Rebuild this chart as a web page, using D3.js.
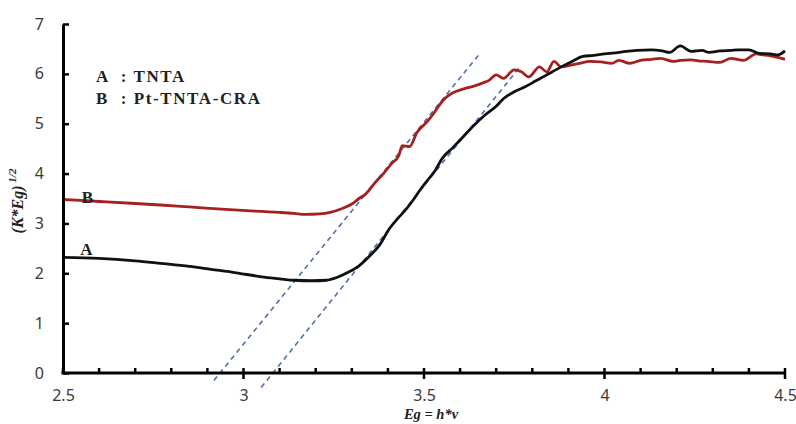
<!DOCTYPE html>
<html>
<head>
<meta charset="utf-8">
<script src="https://cdn.jsdelivr.net/npm/d3@7"></script>
<style>
  body { margin: 0; background: #fff; }
  svg { display: block; }
</style>
</head>
<body>
<div id="chart"></div>
<script>
// Curve A (TNTA) : photon energy vs (K*Eg)^1/2
const energyA = [2.5, 2.6, 2.7, 2.77, 2.85, 2.91, 2.98, 3.05, 3.1, 3.14, 3.19, 3.23, 3.26, 3.29,
  3.32, 3.35, 3.38, 3.4, 3.43, 3.45, 3.47, 3.49, 3.51, 3.53, 3.55, 3.58, 3.61, 3.64, 3.67, 3.7,
  3.72, 3.75, 3.78, 3.81, 3.84, 3.88, 3.91, 3.94, 3.97, 4.0, 4.03, 4.06, 4.09, 4.13, 4.16, 4.18,
  4.21, 4.24, 4.27, 4.29, 4.32, 4.35, 4.37, 4.4, 4.43, 4.46, 4.48, 4.5];
const valuesA = [2.32, 2.3, 2.25, 2.2, 2.14, 2.08, 2.01, 1.93, 1.89, 1.86, 1.85, 1.86, 1.92, 2.02,
  2.15, 2.35, 2.6, 2.85, 3.12, 3.28, 3.47, 3.68, 3.87, 4.05, 4.3, 4.52, 4.75, 4.98, 5.18, 5.35,
  5.5, 5.64, 5.74, 5.86, 5.98, 6.14, 6.25, 6.35, 6.37, 6.4, 6.42, 6.45, 6.47, 6.48, 6.46, 6.43,
  6.56, 6.45, 6.47, 6.43, 6.46, 6.47, 6.48, 6.48, 6.41, 6.4, 6.38, 6.46];

// Curve B (Pt-TNTA-CRA)
const energyB = [2.5, 2.6, 2.7, 2.77, 2.85, 2.95, 3.05, 3.1, 3.14, 3.17, 3.21, 3.24, 3.27, 3.3,
  3.32, 3.34, 3.36, 3.39, 3.41, 3.43, 3.44, 3.46, 3.48, 3.51, 3.53, 3.545, 3.56, 3.58, 3.61, 3.64,
  3.66, 3.68, 3.7, 3.72, 3.75, 3.77, 3.79, 3.82, 3.84, 3.86, 3.88, 3.91, 3.93, 3.96, 3.99, 4.02,
  4.04, 4.07, 4.1, 4.13, 4.155, 4.19, 4.21, 4.24, 4.26, 4.285, 4.32, 4.35, 4.385, 4.42, 4.44,
  4.46, 4.48, 4.5];
const valuesB = [3.48, 3.44, 3.4, 3.37, 3.33, 3.28, 3.24, 3.22, 3.2, 3.18, 3.19, 3.22, 3.29, 3.39,
  3.5, 3.6, 3.78, 4.02, 4.2, 4.36, 4.56, 4.54, 4.82, 5.05, 5.24, 5.4, 5.52, 5.62, 5.7, 5.76,
  5.81, 5.87, 5.98, 5.91, 6.08, 6.04, 5.94, 6.14, 6.04, 6.25, 6.14, 6.18, 6.21, 6.25, 6.24, 6.21,
  6.27, 6.21, 6.27, 6.29, 6.31, 6.25, 6.27, 6.28, 6.26, 6.25, 6.23, 6.31, 6.27, 6.4, 6.38,
  6.36, 6.33, 6.29];

// tangent (extrapolation) lines, [x, y] end points
const tangentB = [[2.918, -0.15], [3.656, 6.42]];
const tangentA = [[3.049, -0.29], [3.768, 6.16]];

const xTicks = [2.5, 3, 3.5, 4, 4.5];
const yTicks = [0, 1, 2, 3, 4, 5, 6, 7];
const legendLines = ["A  : TNTA", "B  : Pt-TNTA-CRA"];

const W = 796, H = 424;
const svg = d3.select("#chart").append("svg")
  .attr("width", W)
  .attr("height", H);

const x = d3.scaleLinear().domain([2.5, 4.5]).range([63, 785]);
const y = d3.scaleLinear().domain([0, 7]).range([373, 24]);
const y0 = y(0), x0 = x(2.5);

const line = d3.line()
  .x(d => x(d[0]))
  .y(d => y(d[1]))
  .curve(d3.curveMonotoneX);

// dashed tangents
[tangentB, tangentA].forEach(t => {
  svg.append("path")
    .attr("d", d3.line().x(d => x(d[0])).y(d => y(d[1]))(t))
    .attr("fill", "none")
    .attr("stroke", "#4f6fae")
    .attr("stroke-width", 1.6)
    .attr("stroke-dasharray", "5,4");
});

// curves
svg.append("path")
  .attr("d", line(d3.zip(energyB, valuesB)))
  .attr("fill", "none")
  .attr("stroke", "#a5201f")
  .attr("stroke-width", 2.8)
  .attr("stroke-linejoin", "round");

svg.append("path")
  .attr("d", line(d3.zip(energyA, valuesA)))
  .attr("fill", "none")
  .attr("stroke", "#111")
  .attr("stroke-width", 2.8)
  .attr("stroke-linejoin", "round");

// Y axis
const yAxis = svg.append("g")
  .attr("transform", `translate(${x0},0)`)
  .call(d3.axisLeft(y).tickValues(yTicks).tickFormat(d3.format("d"))
    .tickSize(-6).tickSizeOuter(0).tickPadding(19));
yAxis.select(".domain").attr("stroke", "#000").attr("stroke-width", 3);
yAxis.selectAll(".tick line").attr("stroke", "#000").attr("stroke-width", 2.5);

// X axis (labels from axis, ticks drawn below)
const xAxis = svg.append("g")
  .attr("transform", `translate(0,${y0})`)
  .call(d3.axisBottom(x).tickValues(xTicks).tickFormat(d3.format("~g"))
    .tickSize(0).tickSizeOuter(0).tickPadding(17));
xAxis.select(".domain").attr("stroke", "#000").attr("stroke-width", 3)
  .attr("d", `M${x0 - 1.5},0H${x(4.5)}`);

const minor = d3.range(25, 46).map(v => v / 10);
svg.append("g").selectAll("line")
  .data(minor)
  .join("line")
  .attr("x1", d => x(d)).attr("x2", d => x(d))
  .attr("y1", y0 - 5)
  .attr("y2", d => xTicks.includes(d) && d !== 2.5 ? y0 + 6 : y0)
  .attr("stroke", "#000")
  .attr("stroke-width", 2.5);

[yAxis, xAxis].forEach(g => g.selectAll(".tick text")
  .attr("font-family", "'Noto Sans', 'Open Sans', sans-serif")
  .attr("font-size", 16)
  .attr("fill", "#3a3a3a"));

// axis titles
const yTitle = svg.append("text")
  .attr("transform", "translate(23,201) rotate(-90)")
  .attr("text-anchor", "middle")
  .attr("font-family", "'Liberation Serif', serif")
  .attr("font-weight", "bold")
  .attr("font-style", "italic")
  .attr("font-size", 16)
  .attr("fill", "#222");
yTitle.append("tspan").text("(K*Eg)");
yTitle.append("tspan").attr("dy", -7).attr("font-size", 11).text(" 1/2");

svg.append("text")
  .attr("x", 431)
  .attr("y", 419)
  .attr("text-anchor", "middle")
  .attr("font-family", "'Liberation Serif', serif")
  .attr("font-weight", "bold")
  .attr("font-style", "italic")
  .attr("font-size", 14.5)
  .attr("fill", "#222")
  .text("Eg = h*v");

// legend text
svg.append("g").selectAll("text")
  .data(legendLines)
  .join("text")
  .attr("x", 96)
  .attr("y", (d, i) => 82 + i * 22)
  .attr("font-family", "'Liberation Serif', serif")
  .attr("font-weight", "bold")
  .attr("font-size", 17)
  .attr("letter-spacing", 1.6)
  .attr("fill", "#222")
  .style("white-space", "pre")
  .text(d => d);

// curve labels
svg.append("text").attr("x", x(2.548)).attr("y", y(2.34) - 1)
  .attr("font-family", "'Liberation Serif', serif").attr("font-weight", "bold")
  .attr("font-size", 17).attr("fill", "#222").text("A");
svg.append("text").attr("x", x(2.552)).attr("y", y(3.5) + 4)
  .attr("font-family", "'Liberation Serif', serif").attr("font-weight", "bold")
  .attr("font-size", 17).attr("fill", "#222").text("B");
</script>
</body>
</html>
